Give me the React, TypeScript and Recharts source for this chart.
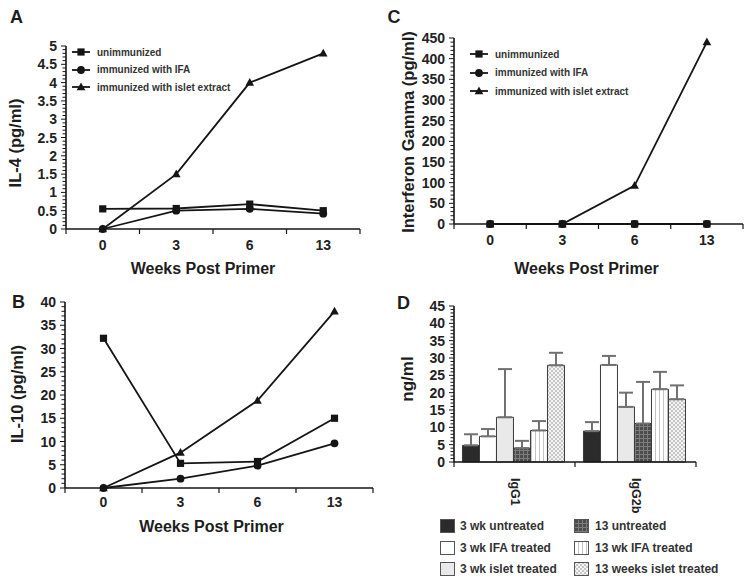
import React from "react";
import { LineChart, Line, BarChart, Bar, ErrorBar, XAxis, YAxis } from "recharts";

const weeks = ["0", "3", "6", "13"];

// A: IL-4 (pg/ml)
const il4Unimmunized = [0.55, 0.56, 0.68, 0.5];
const il4Ifa = [0, 0.5, 0.55, 0.42];
const il4Islet = [0, 1.5, 4.0, 4.8];
const il4Ticks = [0, 0.5, 1, 1.5, 2, 2.5, 3, 3.5, 4, 4.5, 5];

// B: IL-10 (pg/ml)
const il10Unimmunized = [32.2, 5.3, 5.7, 15];
const il10Ifa = [0, 2, 4.8, 9.6];
const il10Islet = [0, 7.6, 18.8, 38];
const il10Ticks = [0, 5, 10, 15, 20, 25, 30, 35, 40];

// C: interferon gamma (pg/ml)
const ifnUnimmunized = [0, 0, 0, 0];
const ifnIfa = [0, 0, 0, 0];
const ifnIslet = [0, 0, 93, 440];
const ifnTicks = [0, 50, 100, 150, 200, 250, 300, 350, 400, 450];

// D: antibody isotypes (ng/ml), bar value + upper error
const isotypes = ["IgG1", "IgG2b"];
const wk3Untreated = [4.8, 8.9];
const wk3UntreatedErr = [3.2, 2.6];
const wk3Ifa = [7.4, 28.0];
const wk3IfaErr = [2.1, 2.6];
const wk3Islet = [12.9, 15.9];
const wk3IsletErr = [13.9, 4.1];
const wk13Untreated = [4.0, 11.1];
const wk13UntreatedErr = [2.1, 12.0];
const wk13Ifa = [9.1, 21.0];
const wk13IfaErr = [2.7, 5.0];
const wk13Islet = [27.9, 18.1];
const wk13IsletErr = [3.6, 4.0];
const ngTicks = [0, 5, 10, 15, 20, 25, 30, 35, 40, 45];

const FONT = "'Liberation Sans', Arial, Helvetica, sans-serif";
const INK = "#151515";
const TICK_FONT = 14;

const lineSeries = [
  { key: "unimm", kind: "square", label: "unimmunized" },
  { key: "ifa", kind: "circle", label: "immunized with IFA" },
  { key: "islet", kind: "triangle", label: "immunized with islet extract" },
];

const barSeries = [
  { key: "w3u", values: wk3Untreated, err: wk3UntreatedErr, fill: "#2b2b2b", label: "3 wk untreated" },
  { key: "w3i", values: wk3Ifa, err: wk3IfaErr, fill: "#ffffff", label: "3 wk IFA treated" },
  { key: "w3s", values: wk3Islet, err: wk3IsletErr, fill: "#e9e9e9", label: "3 wk islet treated" },
  { key: "w13u", values: wk13Untreated, err: wk13UntreatedErr, fill: "url(#checkDark)", label: "13 untreated" },
  { key: "w13i", values: wk13Ifa, err: wk13IfaErr, fill: "url(#vStripe)", label: "13 wk IFA treated" },
  { key: "w13s", values: wk13Islet, err: wk13IsletErr, fill: "url(#hatch)", label: "13 weeks islet treated" },
];

function lineRows(unimm: number[], ifa: number[], islet: number[]) {
  return weeks.map((w, i) => ({ pos: i + 0.5, week: w, unimm: unimm[i], ifa: ifa[i], islet: islet[i] }));
}

function allTicks(max: number, step: number) {
  const out: number[] = [];
  const n = Math.round(max / step);
  for (let i = 0; i <= n; i++) out.push(Math.round(i * step * 1000) / 1000);
  return out;
}

function Marker({ cx, cy, kind }: { cx?: number; cy?: number; kind: string }) {
  if (cx == null || cy == null) return null;
  if (kind === "square") return <rect x={cx - 3.6} y={cy - 3.6} width={7.2} height={7.2} fill={INK} />;
  if (kind === "circle") return <circle cx={cx} cy={cy} r={3.9} fill={INK} />;
  return <path d={`M${cx},${cy - 4.6}L${cx + 4.3},${cy + 3.2}L${cx - 4.3},${cy + 3.2}Z`} fill={INK} />;
}

function YTick(props: any) {
  const { x, y, payload, majors } = props;
  const v = payload.value;
  const major = majors.some((m: number) => Math.abs(m - v) < 1e-6);
  return (
    <g>
      <line x1={x - (major ? 5 : 3.5)} x2={x} y1={y} y2={y} stroke={INK} strokeWidth={1} />
      {major && (
        <text x={x - 9} y={y} dy={5} textAnchor="end" fontFamily={FONT} fontWeight="bold" fontSize={TICK_FONT} fill="#222">
          {String(v)}
        </text>
      )}
    </g>
  );
}

function WeekTick(props: any) {
  const { x, y, payload, labelDy } = props;
  const v = payload.value;
  if (Math.abs(v - Math.round(v)) < 1e-6) {
    return <line x1={x} x2={x} y1={y} y2={y + 5} stroke={INK} strokeWidth={1.2} />;
  }
  return (
    <text x={x} y={y + labelDy} textAnchor="middle" fontFamily={FONT} fontWeight="bold" fontSize={TICK_FONT} fill="#222">
      {weeks[Math.floor(v)]}
    </text>
  );
}

type Box = { left: number; top: number; width: number; height: number };

function LinePanel({ box, margin, rows, yMax, majors, minor, labelDy }: {
  box: Box; margin: any; rows: any[]; yMax: number; majors: number[]; minor: number; labelDy: number;
}) {
  const xTicks = allTicks(weeks.length, 0.5);
  return (
    <div style={{ position: "absolute", left: box.left, top: box.top }}>
      <LineChart width={box.width} height={box.height} data={rows} margin={margin}>
        <XAxis
          type="number"
          dataKey="pos"
          domain={[0, weeks.length]}
          ticks={xTicks}
          interval={0}
          height={30}
          tickSize={0}
          tickMargin={0}
          tickLine={false}
          axisLine={{ stroke: INK, strokeWidth: 1.6 }}
          tick={(p: any) => <WeekTick {...p} labelDy={labelDy} />}
        />
        <YAxis
          type="number"
          domain={[0, yMax]}
          ticks={allTicks(yMax, minor)}
          interval={0}
          width={40}
          tickSize={0}
          tickMargin={0}
          tickLine={false}
          axisLine={{ stroke: INK, strokeWidth: 1.6 }}
          tick={(p: any) => <YTick {...p} majors={majors} />}
        />
        {[lineSeries[1], lineSeries[2], lineSeries[0]].map((s) => (
          <Line
            key={s.key}
            type="linear"
            dataKey={s.key}
            stroke={INK}
            strokeWidth={1.8}
            isAnimationActive={false}
            dot={(p: any) => <Marker key={`${s.key}-${p.index}`} cx={p.cx} cy={p.cy} kind={s.kind} />}
            activeDot={false}
          />
        ))}
      </LineChart>
    </div>
  );
}

function LineLegend({ left, top, gap }: { left: number; top: number; gap: number }) {
  return (
    <>
      {lineSeries.map((s, i) => (
        <div
          key={s.key}
          style={{ position: "absolute", left, top: top + i * gap - 7, height: 14, display: "flex", alignItems: "center" }}
        >
          <svg width={20} height={14}>
            <line x1={1} x2={19} y1={7} y2={7} stroke={INK} strokeWidth={1.8} />
            <Marker cx={10} cy={7} kind={s.kind} />
          </svg>
          <span style={{ marginLeft: 6, fontSize: 10, color: "#333", whiteSpace: "nowrap" }}>{s.label}</span>
        </div>
      ))}
    </>
  );
}

function Txt({ x, y, size, rotate, children }: { x: number; y: number; size: number; rotate?: boolean; children: React.ReactNode }) {
  return (
    <div
      style={{
        position: "absolute",
        left: x,
        top: y,
        fontSize: size,
        lineHeight: 1,
        whiteSpace: "nowrap",
        color: "#1d1d1d",
        transform: `translate(-50%, -50%)${rotate ? " rotate(-90deg)" : ""}`,
      }}
    >
      {children}
    </div>
  );
}

const dBox = { left: 375, top: 290, width: 376, height: 230 };
const dMargin = { top: 16, right: 55, left: 39, bottom: 18 };
const dBand = (dBox.width - dMargin.left - dMargin.right - 40) / isotypes.length;

function IsoTick(props: any) {
  const { x, y, payload, index } = props;
  return (
    <g>
      {index === 0 && <line x1={x - dBand / 2} x2={x - dBand / 2} y1={y} y2={y + 5} stroke={INK} strokeWidth={1.2} />}
      <line x1={x + dBand / 2} x2={x + dBand / 2} y1={y} y2={y + 5} stroke={INK} strokeWidth={1.2} />
      <text
        x={x}
        y={y + 16}
        transform={`rotate(90, ${x}, ${y + 16})`}
        textAnchor="start"
        dominantBaseline="central"
        fontFamily={FONT}
        fontWeight="bold"
        fontSize={12.5}
        fill="#222"
      >
        {payload.value}
      </text>
    </g>
  );
}

function BarPanel() {
  const rows = isotypes.map((name, i) => {
    const r: any = { name };
    barSeries.forEach((s) => {
      r[s.key] = s.values[i];
      r[s.key + "Err"] = [0, s.err[i]];
    });
    return r;
  });
  return (
    <div style={{ position: "absolute", left: dBox.left, top: dBox.top }}>
      <BarChart width={dBox.width} height={dBox.height} data={rows} margin={dMargin} barCategoryGap="7%" barGap={0}>
        <XAxis
          dataKey="name"
          height={40}
          interval={0}
          tickSize={0}
          tickMargin={0}
          tickLine={false}
          axisLine={{ stroke: INK, strokeWidth: 1.6 }}
          tick={(p: any) => <IsoTick {...p} />}
        />
        <YAxis
          type="number"
          domain={[0, 45]}
          ticks={allTicks(45, 1)}
          interval={0}
          width={40}
          tickSize={0}
          tickMargin={0}
          tickLine={false}
          axisLine={{ stroke: INK, strokeWidth: 1.6 }}
          tick={(p: any) => <YTick {...p} majors={ngTicks} />}
        />
        {barSeries.map((s) => (
          <Bar key={s.key} dataKey={s.key} fill={s.fill} stroke="#3a3a3a" strokeWidth={1} isAnimationActive={false}>
            <ErrorBar dataKey={s.key + "Err"} width={7} stroke="#707070" strokeWidth={2} direction="y" />
          </Bar>
        ))}
      </BarChart>
    </div>
  );
}

function BarLegend() {
  const cols = [
    { sw: 440, tx: 460 },
    { sw: 574, tx: 595 },
  ];
  const rowsY = [526, 548, 569];
  return (
    <>
      {barSeries.map((s, i) => {
        const c = cols[Math.floor(i / 3)];
        const y = rowsY[i % 3];
        return (
          <React.Fragment key={s.key}>
            <svg style={{ position: "absolute", left: c.sw, top: y - 7 }} width={15} height={14}>
              <rect x={0.5} y={0.5} width={14} height={13} fill={s.fill} stroke="#555" strokeWidth={1} />
            </svg>
            <div style={{ position: "absolute", left: c.tx, top: y - 7, height: 14, lineHeight: "14px", fontSize: 12, color: "#333", whiteSpace: "nowrap" }}>
              {s.label}
            </div>
          </React.Fragment>
        );
      })}
    </>
  );
}

export default function App() {
  return (
    <div
      style={{
        position: "absolute",
        left: 0,
        top: 0,
        width: 751,
        height: 585,
        background: "#fff",
        fontFamily: FONT,
        fontWeight: "bold",
        overflow: "hidden",
      }}
    >
      <svg width={0} height={0} style={{ position: "absolute" }}>
        <defs>
          <pattern id="checkDark" width={4} height={4} patternUnits="userSpaceOnUse">
            <rect width={4} height={4} fill="#4d4d4d" />
            <rect width={4} height={1} fill="#7d7d7d" />
            <rect width={1} height={4} fill="#7d7d7d" />
          </pattern>
          <pattern id="vStripe" width={4} height={4} patternUnits="userSpaceOnUse">
            <rect width={4} height={4} fill="#ffffff" />
            <rect width={1} height={4} fill="#c4c4c4" />
          </pattern>
          <pattern id="hatch" width={4} height={4} patternUnits="userSpaceOnUse">
            <rect width={4} height={4} fill="#f4f4f4" />
            <rect width={2} height={2} fill="#c6c6c6" />
            <rect x={2} y={2} width={2} height={2} fill="#c6c6c6" />
          </pattern>
        </defs>
      </svg>

      <LinePanel
        box={{ left: 0, top: 0, width: 375, height: 290 }}
        margin={{ top: 46, right: 15, left: 26, bottom: 31 }}
        rows={lineRows(il4Unimmunized, il4Ifa, il4Islet)}
        yMax={5}
        majors={il4Ticks}
        minor={0.1}
        labelDy={21}
      />
      <LinePanel
        box={{ left: 375, top: 0, width: 376, height: 290 }}
        margin={{ top: 38, right: 8, left: 39, bottom: 36 }}
        rows={lineRows(ifnUnimmunized, ifnIfa, ifnIslet)}
        yMax={450}
        majors={ifnTicks}
        minor={10}
        labelDy={21}
      />
      <LinePanel
        box={{ left: 0, top: 290, width: 375, height: 250 }}
        margin={{ top: 12, right: 2, left: 25, bottom: 22 }}
        rows={lineRows(il10Unimmunized, il10Ifa, il10Islet)}
        yMax={40}
        majors={il10Ticks}
        minor={1}
        labelDy={19}
      />
      <BarPanel />

      <LineLegend left={71} top={52} gap={17.5} />
      <LineLegend left={469} top={54} gap={18.5} />
      <BarLegend />

      <Txt x={16.5} y={16.5} size={18}>A</Txt>
      <Txt x={394} y={16.5} size={18}>C</Txt>
      <Txt x={18.5} y={302} size={18}>B</Txt>
      <Txt x={403.5} y={302.5} size={18}>D</Txt>

      <Txt x={15} y={143} size={16.5} rotate>IL-4 (pg/ml)</Txt>
      <Txt x={408} y={131.5} size={16.5} rotate>Interferon Gamma (pg/ml)</Txt>
      <Txt x={17} y={394} size={16.5} rotate>IL-10 (pg/ml)</Txt>
      <Txt x={407} y={378.5} size={17} rotate>ng/ml</Txt>

      <Txt x={203} y={269} size={16}>Weeks Post Primer</Txt>
      <Txt x={586.5} y={269} size={16}>Weeks Post Primer</Txt>
      <Txt x={211.5} y={527} size={16}>Weeks Post Primer</Txt>
    </div>
  );
}
